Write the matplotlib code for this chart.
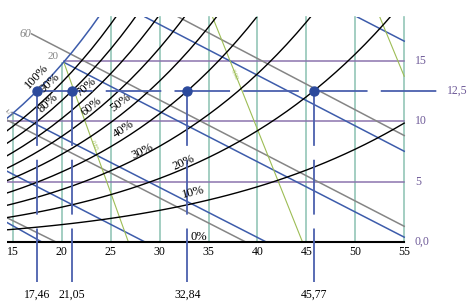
import numpy as np
import matplotlib
matplotlib.use('Agg')
import matplotlib.pyplot as plt

plt.rcParams['font.family'] = ['Liberation Serif', 'DejaVu Serif']
plt.rcParams['lines.scale_dashes'] = False

# saturation pressure of water (kPa), steam table, 14..55 degC
temps = np.arange(14, 56)
psat = [1.598, 1.705, 1.818, 1.938, 2.064, 2.197, 2.339, 2.487, 2.645, 2.810,
        2.985, 3.169, 3.363, 3.567, 3.782, 4.008, 4.246, 4.496, 4.759, 5.034,
        5.324, 5.628, 5.947, 6.281, 6.632, 6.999, 7.384, 7.786, 8.208, 8.649,
        9.111, 9.593, 10.098, 10.624, 11.175, 11.749, 12.349, 12.975, 13.628,
        14.308, 15.015, 15.758]
p_atm = 101.325

rh_levels = [0, 10, 20, 30, 40, 50, 60, 70, 80, 90, 100]
rh_labels = ['0%', '10%', '20%', '30%', '40%', '50%', '60%', '70%', '80%', '90%', '100%']
rh_label_pos = [(34.0, 0.45), (33.4, 4.1), (32.4, 6.6), (28.2, 7.5), (26.3, 9.3),
                (26.0, 11.5), (23.0, 11.2), (22.4, 12.8), (18.6, 11.5), (18.8, 13.1),
                (17.4, 13.7)]
rh_label_rot = [0, 14, 24, 25, 34, 37, 39, 41, 42, 43, 47]

# wet bulb lines (blue), start/end points
wb_start = [(14.39, 1.61), (14.39, 5.85), (15.0, 10.7), (20.2, 14.85), (28.5, 18.6), (50.2, 18.6)]
wb_end = [(17.95, 0.0), (28.5, 0.0), (40.9, 0.0), (55.0, 0.4), (55.0, 7.5), (55.0, 16.6)]

# enthalpy lines (gray)
h_start = [(14.39, 2.0), (14.39, 10.08), (16.9, 17.2), (31.9, 18.6)]
h_end = [(19.4, 0.0), (38.8, 0.0), (55.0, 1.3), (55.0, 8.8)]

# specific volume lines (green)
v_start = [(20.2, 14.85), (35.4, 18.6), (52.5, 18.6)]
v_end = [(26.8, 0.0), (44.6, 0.0), (55.0, 13.7)]
v_labels = ['0,85', '0,90']
v_label_pos = [(23.4, 8.0), (37.7, 13.9)]

# grid
t_grid = [15, 20, 25, 30, 35, 40, 45, 50, 55]
t_grid_top = [10.7, 14.8, 18.6, 18.6, 18.6, 18.6, 18.6, 18.6, 18.6]
w_grid = [5, 10, 15]
w_grid_start = [14.39, 14.39, 20.2]
w_labels = ['0,0', '5', '10', '15']
w_label_vals = [0, 5, 10, 15]

# state points
w_point = 12.5
t_points = [17.46, 21.05, 32.84, 45.77]
t_point_labels = ['17,46', '21,05', '32,84', '45,77']

fig = plt.figure(figsize=(4.74, 3.05), dpi=100)
ax = fig.add_axes([7 / 474, 61 / 305, 399 / 474, 227 / 305])
ax.set_xlim(14.387, 55.184)
ax.set_ylim(-0.165, 18.595)
ax.axis('off')

teal = '#93c6b8'
purple = '#8b74ad'
blue = '#3d5cab'
gray = '#858585'
green = '#9dbd55'
lbl_purple = '#6e5a98'

for t, top in zip(t_grid, t_grid_top):
    ax.plot([t, t], [0, top], color=teal, lw=1.2, zorder=1, clip_on=False)
for w, t0 in zip(w_grid, w_grid_start):
    ax.plot([t0, 55], [w, w], color=purple, lw=1.1, zorder=1)

ps = np.array(psat)
for rh in rh_levels:
    pv = rh / 100 * ps
    w = 622 * pv / (p_atm - pv)
    if rh == 100:
        ax.plot(temps, w, color=blue, lw=1.1, zorder=3)
    else:
        ax.plot(temps, w, color='black', lw=1.0 if rh else 1.5, zorder=3)

for (x0, y0), (x1, y1) in zip(wb_start, wb_end):
    ax.plot([x0, x1], [y0, y1], color=blue, lw=1.1, zorder=2)
for (x0, y0), (x1, y1) in zip(h_start, h_end):
    ax.plot([x0, x1], [y0, y1], color=gray, lw=1.1, zorder=2)
for (x0, y0), (x1, y1) in zip(v_start, v_end):
    ax.plot([x0, x1], [y0, y1], color=green, lw=0.8, zorder=2)

for lab, (x, y), r in zip(rh_labels, rh_label_pos, rh_label_rot):
    ax.text(x, y, lab, rotation=r, fontsize=9, ha='center', va='center',
            rotation_mode='anchor', zorder=5)
for lab, (x, y) in zip(v_labels, v_label_pos):
    ax.text(x, y, lab, rotation=-68, fontsize=4.5, color=green, ha='center', va='center')

ax.text(16.85, 17.15, '60', fontsize=8.5, color=gray, ha='right', va='center', style='italic')
ax.text(19.7, 15.0, '20', fontsize=8, color=gray, ha='right', va='bottom')
ax.text(14.72, 10.62, '5', fontsize=8, color=gray, ha='center', va='center', rotation=45)

# state points and dashed guide lines
ax.plot([t_points[0], 58.9], [w_point, w_point], color='#4b60ae', lw=1.3,
        dashes=(40, 9.5), clip_on=False, zorder=4)
for t in t_points:
    ax.plot([t, t], [w_point, -3.3], color='#4b60ae', lw=1.3, dashes=(39.5, 10),
            clip_on=False, zorder=4)
ax.plot(t_points, [w_point] * len(t_points), 'o', color='#2c4a9c', ms=6.5, zorder=6)

for t in t_grid:
    ax.text(t, -0.85, str(t), fontsize=8.5, ha='center', va='center')
for t, lab in zip(t_points, t_point_labels):
    ax.text(t, -4.35, lab, fontsize=8.5, ha='center', va='center')
for v, lab in zip(w_label_vals, w_labels):
    ax.text(56.1, v, lab, fontsize=8.5, color=lbl_purple, ha='left', va='center')
ax.text(59.4, w_point, '12,5', fontsize=8.5, color=lbl_purple, ha='left', va='center')

plt.savefig('out.png', dpi=100)
